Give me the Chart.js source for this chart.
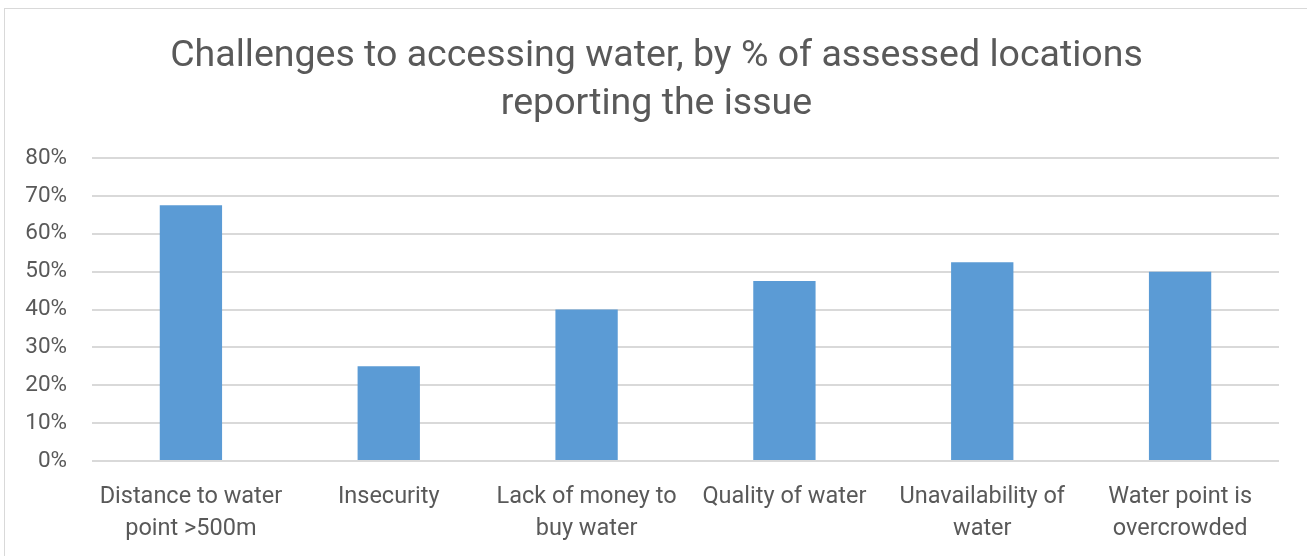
<!DOCTYPE html>
<html>
<head>
<meta charset="utf-8">
<script src="https://cdn.jsdelivr.net/npm/chart.js@4"></script>
<style>
  html, body { margin: 0; padding: 0; background: #fff; }
  #wrap { position: relative; width: 1307px; height: 556px; }
  #frame { position: absolute; left: 4px; top: 8px; right: 0; bottom: 0;
           border: 1px solid #d9d9d9; border-right: none; border-bottom: none; pointer-events: none; }
</style>
</head>
<body>
<div id="wrap">
  <canvas id="waterChart" width="1307" height="556"></canvas>
  <div id="frame"></div>
</div>
<script>
  // Challenges to accessing water
  const categories = [
    ["Distance to water", "point >500m"],
    "Insecurity",
    ["Lack of money to", "buy water"],
    "Quality of water",
    ["Unavailability of", "water"],
    ["Water point is", "overcrowded"]
  ];
  const shares = [67.5, 25, 40, 47.5, 52.5, 50];
  const yTicks = [0, 10, 20, 30, 40, 50, 60, 70, 80];

  const textColor = "#595959";

  // centre the title over the framed area rather than the canvas minus right padding
  const shiftTitle = {
    id: "shiftTitle",
    afterLayout(chart) {
      const t = chart.titleBlock;
      if (t) { t.left += 17; t.right += 17; }
    }
  };

  new Chart(document.getElementById("waterChart"), {
    type: "bar",
    data: {
      labels: categories,
      datasets: [{
        data: shares,
        backgroundColor: "#5b9bd5",
        barPercentage: 1,
        categoryPercentage: 0.315
      }]
    },
    options: {
      responsive: false,
      animation: false,
      layout: { padding: { top: 33, left: 0, right: 28, bottom: 0 } },
      plugins: {
        legend: { display: false },
        tooltip: { enabled: false },
        title: {
          display: true,
          text: ["Challenges to accessing water, by % of assessed locations", "reporting the issue"],
          color: textColor,
          font: { family: "Roboto", size: 37.5, weight: "normal", lineHeight: "48px" },
          padding: { top: 0, bottom: 29 }
        }
      },
      scales: {
        x: {
          grid: { display: false },
          border: { display: false },
          ticks: {
            color: textColor,
            font: { family: "Roboto", size: 23.5, lineHeight: "32px" },
            padding: 12,
            maxRotation: 0,
            autoSkip: false
          },
          afterFit: s => { s.height = 556 - 461; }
        },
        y: {
          min: 0,
          max: 80,
          afterBuildTicks: s => { s.ticks = yTicks.map(v => ({ value: v })); },
          grid: { color: "#d9d9d9", lineWidth: 2, drawTicks: false },
          border: { display: false },
          ticks: {
            color: textColor,
            font: { family: "Roboto", size: 22.5 },
            padding: 25,
            callback: v => v + "%"
          },
          afterFit: s => { s.width = 92; }
        }
      }
    },
    plugins: [shiftTitle]
  });
</script>
</body>
</html>
